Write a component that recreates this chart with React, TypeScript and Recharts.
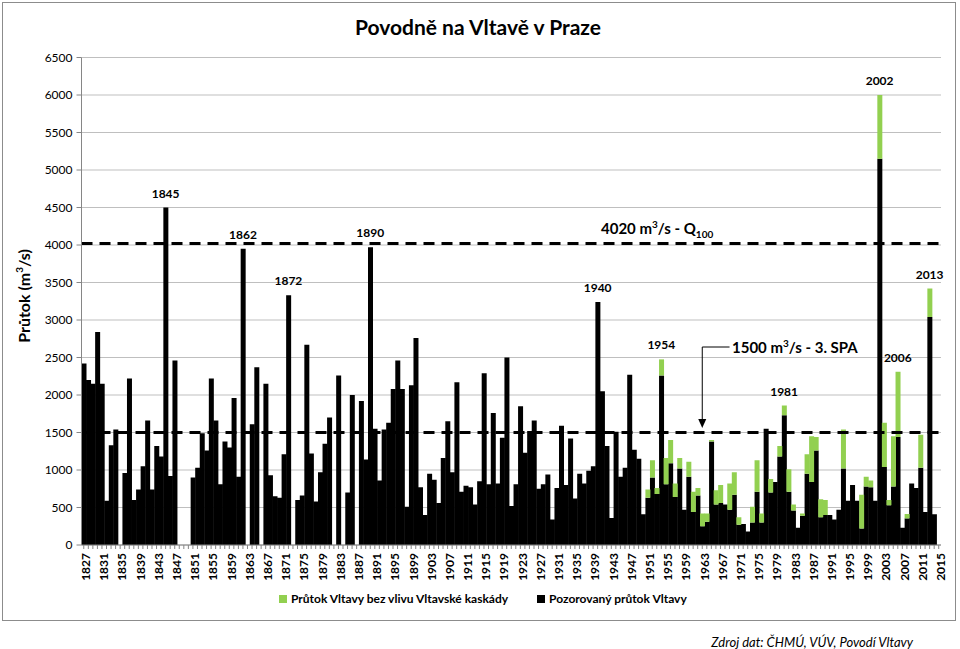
import {
  Bar,
  BarChart,
  CartesianGrid,
  ReferenceDot,
  ReferenceLine,
  XAxis,
  YAxis,
} from "recharts"

// observed yearly maximum flow in Prague, 1827..2015 (null = no value)
const FIRST_YEAR = 1827
const observed: (number | null)[] = [
  2420, 2200, 2150, 2840, 2150, 590, 1330, 1540, null, 960,
  2220, 600, 740, 1050, 1660, 740, 1320, 1180, 4500, 920,
  2460, null, null, null, 900, 1030, 1490, 1260, 2220, 1660,
  810, 1380, 1300, 1960, 910, 3950, null, 1610, 2370, null,
  2150, 930, 650, 630, 1210, 3330, null, 600, 660, 2670,
  1220, 580, 970, 1350, 1700, null, 2260, null, 700, 2000,
  null, 1920, 1140, 3970, 1550, 860, 1540, 1630, 2080, 2460,
  2080, 510, 2130, 2760, 770, 400, 950, 870, 560, 1160,
  1650, 970, 2170, 710, 790, 770, 540, 850, 2290, 810,
  1760, 820, 1430, 2500, 520, 810, 1850, 1230, 1520, 1660,
  750, 810, 940, 340, 760, 1590, 800, 1420, 620, 950,
  820, 990, 1050, 3240, 2050, 1320, 360, 1510, 910, 1030,
  2270, 1270, 1150, 410, 630, 900, 680, 2260, 810, 1090,
  640, 1020, 470, 910, 440, 660, 250, 310, 1380, 540,
  560, 540, 470, 670, 270, 280, 180, 300, 710, 300,
  1550, 700, 840, 1180, 1730, 710, 460, 230, 390, 950,
  840, 1260, 370, 400, 400, 340, 470, 1020, 590, 800,
  590, 220, 780, 770, 590, 5150, 1040, 530, 780, 1440,
  230, 355, 820, 760, 1030, 440, 3040, 410, null,
]

// flow without the influence of the Vltava cascade, 1951..2014
const NATURAL_FROM = 1951
const natural: number[] = [
  740, 1130, 760, 2475, 1160, 1400, 820, 1160, 470, 1110,
  710, 760, 420, 420, 1400, 730, 800, 540, 820, 970,
  370, 280, 180, 510, 1130, 420, 1550, 880, 840, 1320,
  1860, 1010, 540, 230, 420, 1210, 1450, 1440, 610, 600,
  400, 340, 470, 1540, 590, 800, 590, 670, 910, 860,
  590, 6000, 1630, 600, 1450, 2310, 230, 413, 820, 760,
  1470, 440, 3420, 410,
]

const yTicks = [0, 500, 1000, 1500, 2000, 2500, 3000, 3500, 4000, 4500, 5000, 5500, 6000, 6500]
const peakYears = [1845, 1862, 1872, 1890, 1940, 1954, 1981, 2002, 2006, 2013]
const Q100 = 4020
const SPA3 = 1500

const GREEN = "#92D050"
const GRID = "#bfbfbf"
const FONT = "Lato, 'Open Sans', sans-serif"

const data = observed.map((v, i) => {
  const year = FIRST_YEAR + i
  const n = natural[year - NATURAL_FROM]
  return {
    year,
    observed: v,
    extra: n != null && v != null ? Math.max(n - v, 0) : null,
    total: n ?? v ?? 0,
  }
})

function YearTick({ x, y, payload }: any) {
  const year = Number(payload.value)
  if ((year - FIRST_YEAR) % 4 !== 0) return <g />
  const cx = x + 2
  return (
    <text
      x={cx}
      y={y}
      transform={`rotate(-90, ${cx}, ${y})`}
      textAnchor="end"
      dy="0.36em"
      fontSize={12}
      fontWeight="bold"
      fill="#000"
    >
      {year}
    </text>
  )
}

function ArrowHead(p: any) {
  const { cx, cy } = p
  return <path d={`M${cx - 4},${cy - 9}L${cx + 4},${cy - 9}L${cx},${cy}Z`} fill="#000" />
}

export default function App() {
  return (
    <div
      style={{
        position: "absolute",
        left: 0,
        top: 0,
        width: 960,
        height: 649,
        background: "#fff",
        fontFamily: FONT,
        color: "#000",
      }}
    >
      <div
        style={{
          position: "absolute",
          left: 2,
          top: 2,
          width: 952,
          height: 617,
          border: "1px solid #8c8c8c",
        }}
      />
      <div
        style={{
          position: "absolute",
          left: 0,
          top: 13,
          width: 956,
          textAlign: "center",
          fontSize: 21,
          fontWeight: "bold",
          lineHeight: "28px",
        }}
      >
        Povodně na Vltavě v Praze
      </div>
      <div
        style={{
          position: "absolute",
          left: 23,
          top: 296,
          transform: "translate(-50%, -50%) rotate(-90deg)",
          whiteSpace: "nowrap",
          fontSize: 16,
          fontWeight: "bold",
        }}
      >
        Průtok (m<sup style={{ fontSize: 10, lineHeight: 0 }}>3</sup>/s)
      </div>

      <div style={{ position: "absolute", left: 0, top: 0 }}>
        <BarChart
          width={960}
          height={649}
          data={data}
          barCategoryGap={0}
          barGap={0}
          margin={{ top: 57.5, right: 19, left: 21.5, bottom: 59 }}
        >
          <CartesianGrid vertical={false} stroke={GRID} yAxisId="left" />
          <XAxis
            dataKey="year"
            interval={0}
            tick={<YearTick />}
            tickSize={4}
            tickMargin={4}
            height={45}
            axisLine={{ stroke: "#868686" }}
            tickLine={{ stroke: "#868686" }}
          />
          <YAxis
            yAxisId="left"
            domain={[0, 6500]}
            ticks={yTicks}
            width={60}
            tickSize={5}
            tickMargin={4}
            axisLine={{ stroke: "#868686" }}
            tickLine={{ stroke: "#868686" }}
            tick={{ fontSize: 12, fill: "#000" }}
          />
          <YAxis
            yAxisId="right"
            orientation="right"
            domain={[0, 6500]}
            ticks={yTicks}
            width={0}
            tick={false}
            tickLine={false}
            axisLine={{ stroke: "#868686" }}
          />
          <Bar
            yAxisId="left"
            dataKey="observed"
            stackId="flow"
            fill="#000"
            isAnimationActive={false}
          />
          <Bar
            yAxisId="left"
            dataKey="extra"
            stackId="flow"
            fill={GREEN}
            isAnimationActive={false}
          />
          <ReferenceLine
            yAxisId="left"
            y={Q100}
            stroke="#000"
            strokeWidth={3}
            strokeDasharray="11 7"
          />
          <ReferenceLine
            yAxisId="left"
            y={SPA3}
            stroke="#000"
            strokeWidth={3}
            strokeDasharray="11 7"
          />
          <ReferenceLine
            yAxisId="left"
            segment={[
              { x: 1963, y: 2640 },
              { x: 1963, y: 1680 },
            ]}
            stroke="#000"
            strokeWidth={1}
          />
          <ReferenceLine
            yAxisId="left"
            segment={[
              { x: 1963, y: 2640 },
              { x: 1969, y: 2640 },
            ]}
            stroke="#000"
            strokeWidth={1}
          />
          <ReferenceDot yAxisId="left" x={1963} y={1560} r={4} shape={ArrowHead} />
          {peakYears.map((yr) => {
            const row = data[yr - FIRST_YEAR]
            return (
              <ReferenceDot
                key={yr}
                yAxisId="left"
                x={yr}
                y={row.total}
                r={0}
                fill="none"
                stroke="none"
                label={{
                  value: String(yr),
                  position: "top",
                  offset: 10,
                  fontSize: 12,
                  fontWeight: "bold",
                  fill: "#000",
                }}
              />
            )
          })}
        </BarChart>
      </div>

      <div
        style={{
          position: "absolute",
          left: 601,
          top: 217,
          fontSize: 15,
          fontWeight: "bold",
          whiteSpace: "nowrap",
          lineHeight: "22px",
        }}
      >
        4020 m<sup style={{ fontSize: 10, lineHeight: 0 }}>3</sup>/s - Q
        <sub style={{ fontSize: 10, lineHeight: 0 }}>100</sub>
      </div>
      <div
        style={{
          position: "absolute",
          left: 732,
          top: 336,
          fontSize: 15,
          fontWeight: "bold",
          whiteSpace: "nowrap",
          lineHeight: "22px",
        }}
      >
        1500 m<sup style={{ fontSize: 10, lineHeight: 0 }}>3</sup>/s - 3. SPA
      </div>

      <div
        style={{
          position: "absolute",
          left: 279,
          top: 591,
          display: "flex",
          alignItems: "center",
          fontSize: 12,
          fontWeight: "bold",
          whiteSpace: "nowrap",
        }}
      >
        <span style={{ width: 8, height: 8, background: GREEN, marginRight: 4 }} />
        <span>Průtok Vltavy bez vlivu Vltavské kaskády</span>
        <span style={{ width: 8, height: 8, background: "#000", marginLeft: 29, marginRight: 4 }} />
        <span>Pozorovaný průtok Vltavy</span>
      </div>

      <div
        style={{
          position: "absolute",
          right: 47,
          top: 634,
          fontSize: 13,
          fontStyle: "italic",
          whiteSpace: "nowrap",
        }}
      >
        Zdroj dat: ČHMÚ, VÚV, Povodí Vltavy
      </div>
    </div>
  )
}
